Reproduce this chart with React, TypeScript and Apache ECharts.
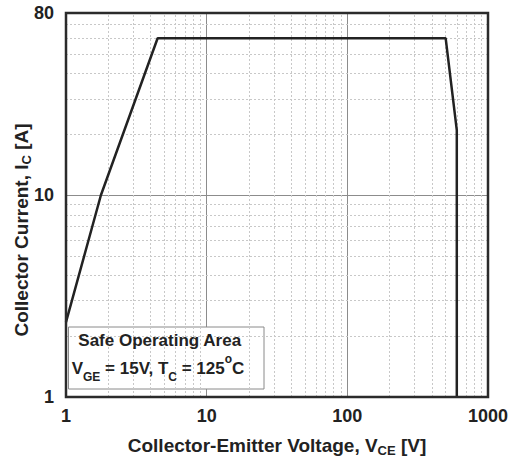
import React, { useEffect, useRef } from "react";
import * as echarts from "echarts";

// Curve: Safe Operating Area boundary (VCE [V], IC [A])
const vceValues = [1, 1.77, 4.48, 500, 600, 600];
const icValues = [2.35, 10, 60, 60, 21, 1];

// Grid values (log decades)
const xMinorGrid = [2, 3, 4, 5, 6, 7, 8, 9, 20, 30, 40, 50, 60, 70, 80, 90, 200, 300, 400, 500, 600, 700, 800, 900];
const yMinorGrid = [2, 3, 4, 5, 6, 7, 8, 9, 20, 30, 40, 50, 60, 70];
const xRange = [1, 1000];
const yRange = [1, 80];

const FONT = "'Liberation Sans', Arial, Helvetica, sans-serif";
const INK = "#222";

export default function App() {
  const ref = useRef<HTMLDivElement>(null);

  useEffect(() => {
    document.body.style.margin = "0";
    if (!ref.current) return;
    const chart = echarts.init(ref.current, undefined, { renderer: "svg" });

    const curve = vceValues.map((v, i) => [v, icValues[i]]);
    const minorStyle = { color: "#c8c8c8", width: 1, type: [2, 2] as any };
    const fmt = (v: number) => String(Math.round(v));

    const option: any = {
      animation: false,
      backgroundColor: "#fff",
      grid: {
        left: 66,
        right: 30,
        top: 13,
        bottom: 60,
        containLabel: false,
        outerBoundsMode: "none",
        show: true,
        borderColor: "#2b2b2b",
        borderWidth: 2.5,
        backgroundColor: "transparent",
        z: 10,
      },
      xAxis: {
        type: "log",
        logBase: 10,
        min: xRange[0],
        max: xRange[1],
        z: 0,
        axisLine: { show: false },
        axisTick: { show: false },
        splitLine: { show: true, lineStyle: { color: "#8c8c8c", width: 1 } },
        axisLabel: {
          color: INK,
          fontFamily: FONT,
          fontWeight: "bold",
          fontSize: 18,
          margin: 10,
          formatter: fmt,
        },
        name: "{n|Collector-Emitter Voltage, V}{sub|CE}{n| [V]}",
        nameLocation: "middle",
        nameGap: 36,
        nameMoveOverlap: false,
        nameTextStyle: {
          rich: {
            n: { fontFamily: FONT, fontWeight: "bold", fontSize: 19, color: INK, lineHeight: 24, verticalAlign: "middle" },
            sub: { fontFamily: FONT, fontWeight: "bold", fontSize: 13, color: INK, lineHeight: 10, verticalAlign: "bottom" },
          },
        },
      },
      yAxis: {
        type: "log",
        logBase: 10,
        min: yRange[0],
        max: yRange[1],
        z: 0,
        axisLine: { show: false },
        axisTick: { show: false },
        splitLine: { show: true, lineStyle: { color: "#8c8c8c", width: 1 } },
        axisLabel: {
          color: INK,
          fontFamily: FONT,
          fontWeight: "bold",
          fontSize: 18,
          margin: 12,
          formatter: fmt,
        },
        name: "{n|Collector Current, I}{sub|C}{n| [A]}",
        nameLocation: "middle",
        nameRotate: 90,
        nameGap: 33,
        nameMoveOverlap: false,
        nameTextStyle: {
          padding: [0, 50, 0, 0],
          rich: {
            n: { fontFamily: FONT, fontWeight: "bold", fontSize: 19, color: INK, lineHeight: 24, verticalAlign: "middle" },
            sub: { fontFamily: FONT, fontWeight: "bold", fontSize: 13, color: INK, lineHeight: 10, verticalAlign: "bottom" },
          },
        },
      },
      series: [
        {
          name: "minor grid",
          type: "line",
          z: 1,
          silent: true,
          data: [[xRange[0], yRange[0]]],
          symbol: "none",
          lineStyle: { width: 0, opacity: 0 },
          markLine: {
            silent: true,
            symbol: ["none", "none"],
            label: { show: false },
            lineStyle: minorStyle,
            emphasis: { disabled: true },
            data: [
              ...xMinorGrid.map((v) => ({ xAxis: v })),
              ...yMinorGrid.map((v) => ({ yAxis: v })),
            ],
          },
        },
        {
          name: "SOA",
          type: "line",
          z: 5,
          data: curve,
          symbol: "none",
          lineStyle: { color: INK, width: 2.5 },
        },
      ],
      graphic: [
        {
          type: "rect",
          z: 3,
          shape: { x: 68.5, y: 327, width: 195.5, height: 62 },
          style: { fill: "#fff", stroke: "#8a8a8a", lineWidth: 1 },
        },
        {
          type: "text",
          z: 6,
          x: 78.3,
          y: 340.8,
          style: {
            text: "Safe Operating Area",
            fontFamily: FONT,
            fontWeight: "bold",
            fontSize: 17,
            fill: INK,
            verticalAlign: "middle",
            align: "left",
          },
        },
        {
          type: "text",
          z: 6,
          x: 71.7,
          y: 353,
          style: {
            text: "{n|V}{sub|GE}{n| = 15V, T}{sub|C}{n| = 125}{sup|o}{n|C}",
            verticalAlign: "top",
            align: "left",
            rich: {
              n: { fontFamily: FONT, fontWeight: "bold", fontSize: 17, fill: INK, lineHeight: 30, verticalAlign: "middle" },
              sub: { fontFamily: FONT, fontWeight: "bold", fontSize: 12, fill: INK, lineHeight: 8, verticalAlign: "bottom" },
              sup: { fontFamily: FONT, fontWeight: "bold", fontSize: 12, fill: INK, lineHeight: 12, verticalAlign: "top" },
            },
          },
        },
      ],
    };

    chart.setOption(option);
    return () => chart.dispose();
  }, []);

  return <div ref={ref} style={{ width: 518, height: 457 }} />;
}
